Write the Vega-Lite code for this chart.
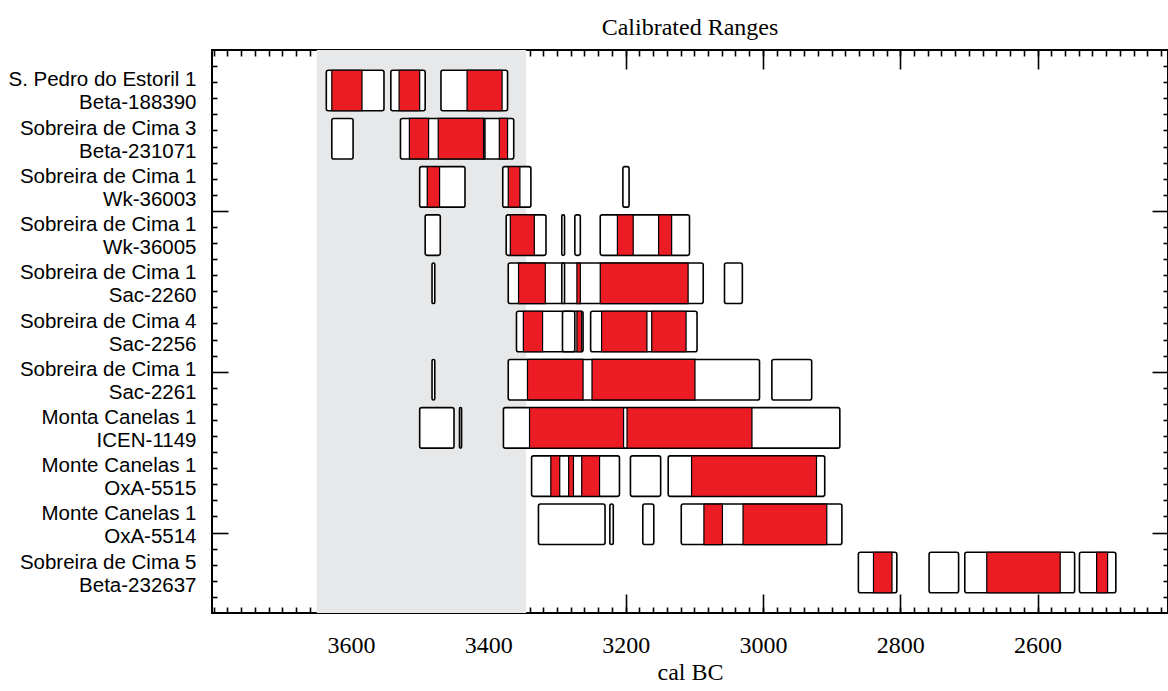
{
  "$schema": "https://vega.github.io/schema/vega-lite/v6.json",
  "width": 956,
  "height": 563,
  "autosize": "none",
  "padding": {"left": 212, "top": 50, "right": 0, "bottom": 78},
  "background": "white",
  "title": {"text": "Calibrated Ranges", "font": "Liberation Serif", "fontSize": 24, "fontWeight": "normal", "color": "black", "anchor": "middle", "offset": 9},
  "config": {"view": {"stroke": "black", "strokeWidth": 2}, "axis": {"grid": false}},
  "datasets": {
    "band": [{"from": 3650, "to": 3345}],
    "p95": [
      {"row": "S. Pedro do Estoril 1|Beta-188390", "from": 3636, "to": 3552},
      {"row": "S. Pedro do Estoril 1|Beta-188390", "from": 3542, "to": 3492},
      {"row": "S. Pedro do Estoril 1|Beta-188390", "from": 3469, "to": 3372},
      {"row": "Sobreira de Cima 3|Beta-231071", "from": 3628, "to": 3597},
      {"row": "Sobreira de Cima 3|Beta-231071", "from": 3528, "to": 3363},
      {"row": "Sobreira de Cima 3|Beta-231071", "from": 3408, "to": 3405},
      {"row": "Sobreira de Cima 1|Wk-36003", "from": 3500, "to": 3434},
      {"row": "Sobreira de Cima 1|Wk-36003", "from": 3379, "to": 3338},
      {"row": "Sobreira de Cima 1|Wk-36003", "from": 3204, "to": 3195},
      {"row": "Sobreira de Cima 1|Wk-36005", "from": 3492, "to": 3470},
      {"row": "Sobreira de Cima 1|Wk-36005", "from": 3374, "to": 3316},
      {"row": "Sobreira de Cima 1|Wk-36005", "from": 3293, "to": 3289},
      {"row": "Sobreira de Cima 1|Wk-36005", "from": 3274, "to": 3266},
      {"row": "Sobreira de Cima 1|Wk-36005", "from": 3237, "to": 3107},
      {"row": "Sobreira de Cima 1|Sac-2260", "from": 3482, "to": 3478},
      {"row": "Sobreira de Cima 1|Sac-2260", "from": 3371, "to": 3087},
      {"row": "Sobreira de Cima 1|Sac-2260", "from": 3293, "to": 3289},
      {"row": "Sobreira de Cima 1|Sac-2260", "from": 3056, "to": 3030},
      {"row": "Sobreira de Cima 4|Sac-2256", "from": 3359, "to": 3262},
      {"row": "Sobreira de Cima 4|Sac-2256", "from": 3292, "to": 3274},
      {"row": "Sobreira de Cima 4|Sac-2256", "from": 3251, "to": 3096},
      {"row": "Sobreira de Cima 1|Sac-2261", "from": 3482, "to": 3478},
      {"row": "Sobreira de Cima 1|Sac-2261", "from": 3371, "to": 3005},
      {"row": "Sobreira de Cima 1|Sac-2261", "from": 2987, "to": 2929},
      {"row": "Monta Canelas 1|ICEN-1149", "from": 3500, "to": 3450},
      {"row": "Monta Canelas 1|ICEN-1149", "from": 3442, "to": 3439},
      {"row": "Monta Canelas 1|ICEN-1149", "from": 3378, "to": 2888},
      {"row": "Monte Canelas 1|OxA-5515", "from": 3337, "to": 3209},
      {"row": "Monte Canelas 1|OxA-5515", "from": 3193, "to": 3149},
      {"row": "Monte Canelas 1|OxA-5515", "from": 3138, "to": 2910},
      {"row": "Monte Canelas 1|OxA-5514", "from": 3327, "to": 3230},
      {"row": "Monte Canelas 1|OxA-5514", "from": 3223, "to": 3218},
      {"row": "Monte Canelas 1|OxA-5514", "from": 3175, "to": 3159},
      {"row": "Monte Canelas 1|OxA-5514", "from": 3119, "to": 2885},
      {"row": "Sobreira de Cima 5|Beta-232637", "from": 2861, "to": 2805},
      {"row": "Sobreira de Cima 5|Beta-232637", "from": 2758, "to": 2715},
      {"row": "Sobreira de Cima 5|Beta-232637", "from": 2706, "to": 2546},
      {"row": "Sobreira de Cima 5|Beta-232637", "from": 2539, "to": 2486}
    ],
    "p68": [
      {"row": "S. Pedro do Estoril 1|Beta-188390", "from": 3628, "to": 3584},
      {"row": "S. Pedro do Estoril 1|Beta-188390", "from": 3530, "to": 3500},
      {"row": "S. Pedro do Estoril 1|Beta-188390", "from": 3431, "to": 3380},
      {"row": "Sobreira de Cima 3|Beta-231071", "from": 3515, "to": 3487},
      {"row": "Sobreira de Cima 3|Beta-231071", "from": 3473, "to": 3407},
      {"row": "Sobreira de Cima 3|Beta-231071", "from": 3384, "to": 3372},
      {"row": "Sobreira de Cima 1|Wk-36003", "from": 3489, "to": 3471},
      {"row": "Sobreira de Cima 1|Wk-36003", "from": 3371, "to": 3354},
      {"row": "Sobreira de Cima 1|Wk-36005", "from": 3368, "to": 3333},
      {"row": "Sobreira de Cima 1|Wk-36005", "from": 3212, "to": 3189},
      {"row": "Sobreira de Cima 1|Wk-36005", "from": 3152, "to": 3133},
      {"row": "Sobreira de Cima 1|Sac-2260", "from": 3356, "to": 3317},
      {"row": "Sobreira de Cima 1|Sac-2260", "from": 3271, "to": 3266},
      {"row": "Sobreira de Cima 1|Sac-2260", "from": 3237, "to": 3109},
      {"row": "Sobreira de Cima 4|Sac-2256", "from": 3349, "to": 3321},
      {"row": "Sobreira de Cima 4|Sac-2256", "from": 3271, "to": 3264},
      {"row": "Sobreira de Cima 4|Sac-2256", "from": 3235, "to": 3169},
      {"row": "Sobreira de Cima 4|Sac-2256", "from": 3162, "to": 3112},
      {"row": "Sobreira de Cima 1|Sac-2261", "from": 3343, "to": 3262},
      {"row": "Sobreira de Cima 1|Sac-2261", "from": 3249, "to": 3099},
      {"row": "Monta Canelas 1|ICEN-1149", "from": 3340, "to": 3203},
      {"row": "Monta Canelas 1|ICEN-1149", "from": 3198, "to": 3016},
      {"row": "Monte Canelas 1|OxA-5515", "from": 3309, "to": 3296},
      {"row": "Monte Canelas 1|OxA-5515", "from": 3283, "to": 3276},
      {"row": "Monte Canelas 1|OxA-5515", "from": 3264, "to": 3238},
      {"row": "Monte Canelas 1|OxA-5515", "from": 3104, "to": 2922},
      {"row": "Monte Canelas 1|OxA-5514", "from": 3086, "to": 3059},
      {"row": "Monte Canelas 1|OxA-5514", "from": 3029, "to": 2907},
      {"row": "Sobreira de Cima 5|Beta-232637", "from": 2839, "to": 2812},
      {"row": "Sobreira de Cima 5|Beta-232637", "from": 2674, "to": 2567},
      {"row": "Sobreira de Cima 5|Beta-232637", "from": 2514, "to": 2498}
    ]
  },
  "layer": [
    {
      "data": {"name": "band"},
      "mark": {"type": "rect", "color": "#e7e8e9"},
      "encoding": {
        "x": {"field": "from", "type": "quantitative",
          "scale": {"domain": [2410, 3802.5], "reverse": true, "zero": false, "nice": false},
          "axis": {"orient": "bottom", "values": [3600, 3400, 3200, 3000, 2800, 2600], "format": "d", "ticks": false, "domain": false, "grid": false,
            "labelFont": "Liberation Serif", "labelFontSize": 24, "labelColor": "black", "labelPadding": 20, "labelFlush": false,
            "title": "cal BC", "titleFont": "Liberation Serif", "titleFontSize": 24, "titleFontWeight": "normal", "titleColor": "black", "titlePadding": 3}},
        "x2": {"field": "to"}
      }
    },
    {
      "data": {"name": "p95"},
      "mark": {"type": "rect", "fill": "white", "stroke": "black", "strokeWidth": 1.6, "cornerRadius": 2},
      "encoding": {
        "x": {"field": "from", "type": "quantitative",
          "scale": {"domain": [2410, 3802.5], "reverse": true, "zero": false, "nice": false},
          "axis": {"orient": "bottom", "values": [3600, 3400, 3200, 3000, 2800, 2600], "labels": false, "domain": false, "grid": false, "tickSize": -19, "tickWidth": 1.6, "tickColor": "black", "title": null}},
        "x2": {"field": "to"},
        "y": {"field": "row", "type": "nominal",
          "scale": {"domain": ["S. Pedro do Estoril 1|Beta-188390", "Sobreira de Cima 3|Beta-231071", "Sobreira de Cima 1|Wk-36003", "Sobreira de Cima 1|Wk-36005", "Sobreira de Cima 1|Sac-2260", "Sobreira de Cima 4|Sac-2256", "Sobreira de Cima 1|Sac-2261", "Monta Canelas 1|ICEN-1149", "Monte Canelas 1|OxA-5515", "Monte Canelas 1|OxA-5514", "Sobreira de Cima 5|Beta-232637"], "paddingInner": 0.16, "paddingOuter": 0.42},
          "axis": {"orient": "left", "title": null, "ticks": false, "domain": false, "grid": false, "labelFont": "Liberation Sans", "labelFontSize": 20.5, "labelColor": "black", "labelPadding": 16, "labelLimit": 400, "labelLineHeight": 23, "labelOffset": -10, "labelExpr": "split(datum.label, '|')"}}
      }
    },
    {
      "data": {"name": "p68"},
      "mark": {"type": "rect", "fill": "#ec1c24", "stroke": "black", "strokeWidth": 1.2},
      "encoding": {
        "x": {"field": "from", "type": "quantitative",
          "scale": {"domain": [2410, 3802.5], "reverse": true, "zero": false, "nice": false},
          "axis": {"orient": "top", "values": [3600, 3400, 3200, 3000, 2800, 2600], "labels": false, "domain": false, "grid": false, "tickSize": -19, "tickWidth": 1.6, "tickColor": "black", "title": null}},
        "x2": {"field": "to"},
        "y": {"field": "row", "type": "nominal",
          "scale": {"domain": ["S. Pedro do Estoril 1|Beta-188390", "Sobreira de Cima 3|Beta-231071", "Sobreira de Cima 1|Wk-36003", "Sobreira de Cima 1|Wk-36005", "Sobreira de Cima 1|Sac-2260", "Sobreira de Cima 4|Sac-2256", "Sobreira de Cima 1|Sac-2261", "Monta Canelas 1|ICEN-1149", "Monte Canelas 1|OxA-5515", "Monte Canelas 1|OxA-5514", "Sobreira de Cima 5|Beta-232637"], "paddingInner": 0.16, "paddingOuter": 0.42},
          "axis": null}
      }
    },
    {
      "data": {"name": "band"},
      "mark": {"type": "point", "opacity": 0},
      "encoding": {
        "x": {"datum": 3000, "type": "quantitative",
          "scale": {"domain": [2410, 3802.5], "reverse": true, "zero": false, "nice": false},
          "axis": {"orient": "bottom", "values": [2420,2440,2460,2480,2500,2520,2540,2560,2580,2600,2620,2640,2660,2680,2700,2720,2740,2760,2780,2800,2820,2840,2860,2880,2900,2920,2940,2960,2980,3000,3020,3040,3060,3080,3100,3120,3140,3160,3180,3200,3220,3240,3260,3280,3300,3320,3340,3360,3380,3400,3420,3440,3460,3480,3500,3520,3540,3560,3580,3600,3620,3640,3660,3680,3700,3720,3740,3760,3780,3800], "labels": false, "domain": false, "grid": false, "tickSize": -6, "tickWidth": 1.6, "tickColor": "black", "title": null}},
        "y": {"datum": 1, "type": "quantitative",
          "scale": {"domain": [0, 3.5], "reverse": true, "zero": false, "nice": false},
          "axis": {"orient": "left", "values": [1, 2, 3], "labels": false, "domain": false, "grid": false, "tickSize": -16, "tickWidth": 1.6, "tickColor": "black", "title": null}}
      }
    },
    {
      "data": {"name": "band"},
      "mark": {"type": "point", "opacity": 0},
      "encoding": {
        "x": {"datum": 3000, "type": "quantitative",
          "scale": {"domain": [2410, 3802.5], "reverse": true, "zero": false, "nice": false},
          "axis": {"orient": "top", "values": [2420,2440,2460,2480,2500,2520,2540,2560,2580,2600,2620,2640,2660,2680,2700,2720,2740,2760,2780,2800,2820,2840,2860,2880,2900,2920,2940,2960,2980,3000,3020,3040,3060,3080,3100,3120,3140,3160,3180,3200,3220,3240,3260,3280,3300,3320,3340,3360,3380,3400,3420,3440,3460,3480,3500,3520,3540,3560,3580,3600,3620,3640,3660,3680,3700,3720,3740,3760,3780,3800], "labels": false, "domain": false, "grid": false, "tickSize": -6, "tickWidth": 1.6, "tickColor": "black", "title": null}},
        "y": {"datum": 1, "type": "quantitative",
          "scale": {"domain": [0, 3.5], "reverse": true, "zero": false, "nice": false},
          "axis": {"orient": "left", "values": [0.1,0.2,0.3,0.4,0.5,0.6,0.7,0.8,0.9,1.1,1.2,1.3,1.4,1.5,1.6,1.7,1.8,1.9,2.1,2.2,2.3,2.4,2.5,2.6,2.7,2.8,2.9,3.1,3.2,3.3,3.4], "labels": false, "domain": false, "grid": false, "tickSize": -5, "tickWidth": 1.6, "tickColor": "black", "title": null}}
      }
    },
    {
      "data": {"name": "band"},
      "mark": {"type": "point", "opacity": 0},
      "encoding": {
        "x": {"datum": 3000, "type": "quantitative",
          "scale": {"domain": [2410, 3802.5], "reverse": true, "zero": false, "nice": false}, "axis": null},
        "y": {"datum": 1, "type": "quantitative",
          "scale": {"domain": [0, 3.5], "reverse": true, "zero": false, "nice": false},
          "axis": {"orient": "right", "values": [1, 2, 3], "labels": false, "domain": false, "grid": false, "tickSize": -16, "tickWidth": 1.6, "tickColor": "black", "title": null}}
      }
    },
    {
      "data": {"name": "band"},
      "mark": {"type": "point", "opacity": 0},
      "encoding": {
        "x": {"datum": 3000, "type": "quantitative",
          "scale": {"domain": [2410, 3802.5], "reverse": true, "zero": false, "nice": false}, "axis": null},
        "y": {"datum": 1, "type": "quantitative",
          "scale": {"domain": [0, 3.5], "reverse": true, "zero": false, "nice": false},
          "axis": {"orient": "right", "values": [0.1,0.2,0.3,0.4,0.5,0.6,0.7,0.8,0.9,1.1,1.2,1.3,1.4,1.5,1.6,1.7,1.8,1.9,2.1,2.2,2.3,2.4,2.5,2.6,2.7,2.8,2.9,3.1,3.2,3.3,3.4], "labels": false, "domain": false, "grid": false, "tickSize": -5, "tickWidth": 1.6, "tickColor": "black", "title": null}}
      }
    }
  ],
  "resolve": {"scale": {"y": "independent"}, "axis": {"x": "independent", "y": "independent"}}
}
